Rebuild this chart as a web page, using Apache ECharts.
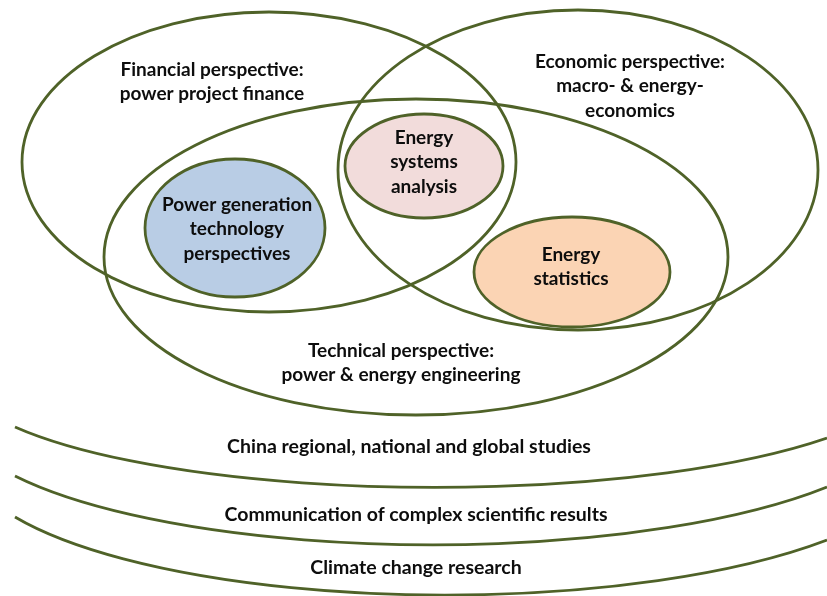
<!DOCTYPE html>
<html>
<head>
<meta charset="utf-8">
<script src="https://cdn.jsdelivr.net/npm/echarts@6/dist/echarts.min.js"></script>
<style>
  html, body { margin: 0; padding: 0; background: #fff; }
  #main { width: 827px; height: 596px; }
</style>
</head>
<body>
<div id="main"></div>
<script>
// big outline ellipses (perspectives): centre and radii in picture units
var ringNames = ['Financial', 'Economic', 'Technical']
var ringCenters = [[269, 162], [578, 170], [416, 257]]
var ringRadii = [[247, 150], [240, 160], [312, 158]]

// small filled ellipses
var blobNames = ['Energy systems analysis', 'Power generation technology perspectives', 'Energy statistics']
var blobCenters = [[424, 166], [235, 228], [572, 272]]
var blobRadii = [[79, 52], [90, 69], [98, 55]]
var blobColors = ['#f2dcdb', '#b9cde5', '#fbd4b4']

// bottom arcs: start point, end point, radii
var arcStarts = [[15, 427], [15, 476], [15, 517]]
var arcEnds = [[827, 438], [827, 487], [827, 540]]
var arcRadii = [[480, 117], [480, 135], [480, 140]]

// text labels
var labelTexts = [
  'Financial perspective:\npower project finance',
  'Economic perspective:\nmacro- & energy-\neconomics',
  'Energy\nsystems\nanalysis',
  'Power generation\ntechnology\nperspectives',
  'Energy\nstatistics',
  'Technical perspective:\npower & energy engineering',
  'China regional, national and global studies',
  'Communication of complex scientific results',
  'Climate change research'
]
var labelPos = [[212, 82], [630, 86], [424, 162], [237, 229], [571, 267], [401, 363], [409, 447], [416, 515], [416, 568]]
var labelSizes = [19, 19, 19, 19, 19, 19, 19.5, 19.5, 19.5]

var lineColor = '#4f6228'

function ellipseItem(centers, radii, fills, width) {
  return function (params, api) {
    var i = params.dataIndex
    var c = api.coord(centers[i])
    var s = api.size(radii[i], centers[i])
    return {
      type: 'ellipse',
      shape: { cx: c[0], cy: c[1], rx: Math.abs(s[0]), ry: Math.abs(s[1]) },
      style: { fill: fills ? fills[i] : 'none', stroke: lineColor, lineWidth: width }
    }
  }
}

var chart = echarts.init(document.getElementById('main'))
chart.setOption({
  animation: false,
  grid: { left: 0, right: 0, top: 0, bottom: 0 },
  xAxis: { type: 'value', min: 0, max: 827, show: false },
  yAxis: { type: 'value', min: 0, max: 596, inverse: true, show: false },
  series: [
    {
      type: 'custom',
      name: 'rings',
      clip: false,
      silent: true,
      data: ringCenters,
      encode: { x: 0, y: 1 },
      renderItem: ellipseItem(ringCenters, ringRadii, null, 2.8)
    },
    {
      type: 'custom',
      name: 'blobs',
      clip: false,
      silent: true,
      data: blobCenters,
      encode: { x: 0, y: 1 },
      renderItem: ellipseItem(blobCenters, blobRadii, blobColors, 2.8)
    },
    {
      type: 'custom',
      name: 'arcs',
      clip: false,
      silent: true,
      data: arcStarts,
      encode: { x: 0, y: 1 },
      renderItem: function (params, api) {
        var i = params.dataIndex
        var p1 = api.coord(arcStarts[i])
        var p2 = api.coord(arcEnds[i])
        var r = api.size(arcRadii[i], arcStarts[i])
        var d = 'M' + p1[0] + ' ' + p1[1] + ' A' + Math.abs(r[0]) + ' ' + Math.abs(r[1]) +
          ' 0 0 0 ' + p2[0] + ' ' + p2[1]
        return {
          type: 'path',
          shape: { pathData: d },
          style: { fill: 'none', stroke: lineColor, lineWidth: 2.8 }
        }
      }
    },
    {
      type: 'custom',
      name: 'labels',
      clip: false,
      silent: true,
      data: labelPos,
      encode: { x: 0, y: 1 },
      renderItem: function (params, api) {
        var i = params.dataIndex
        var c = api.coord(labelPos[i])
        return {
          type: 'text',
          x: c[0],
          y: c[1],
          style: {
            text: labelTexts[i],
            font: 'bold ' + labelSizes[i] + 'px Lato, "Open Sans", sans-serif',
            fill: '#0d0d0d',
            align: 'center',
            verticalAlign: 'middle',
            lineHeight: 24.5
          }
        }
      }
    }
  ]
})
</script>
</body>
</html>
